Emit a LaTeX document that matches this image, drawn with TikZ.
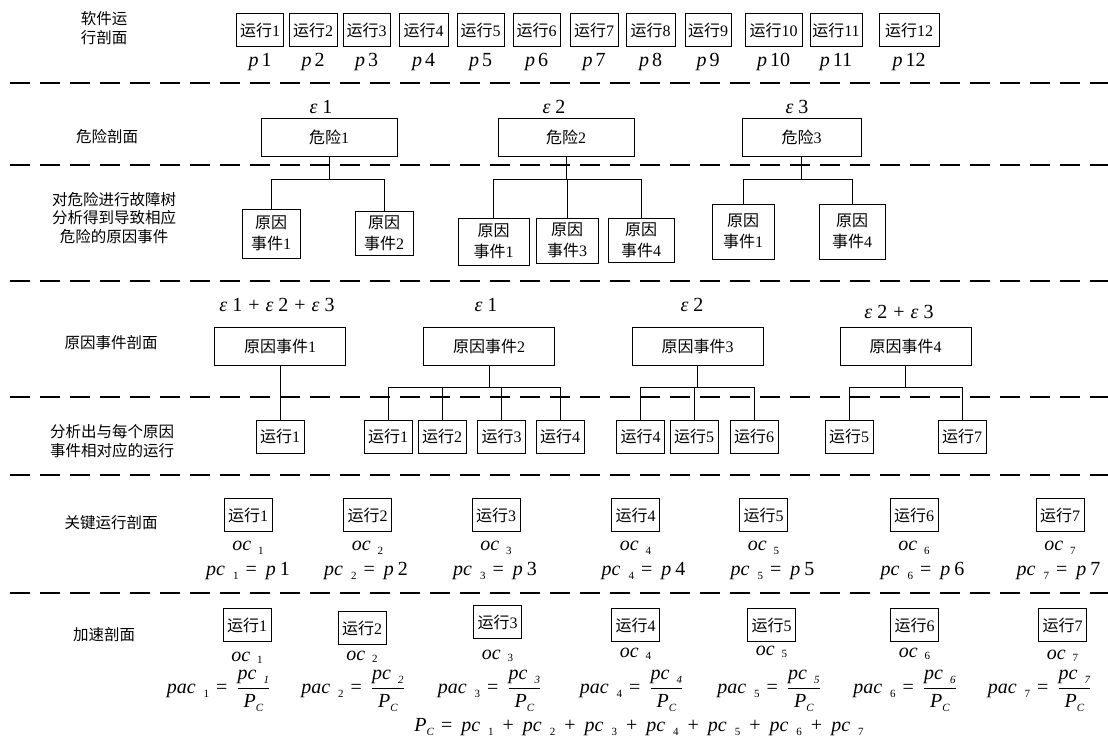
\documentclass[tikz,border=0pt]{standalone}
\usepackage{fontspec}
\usepackage{amsmath}
\setmainfont{Liberation Serif}
\newfontfamily\cjk{Noto Sans CJK SC}
\newcommand{\zh}[1]{{\cjk #1}}
\newcommand{\ivar}[1]{\textit{#1}}
\newcommand{\lowidx}[1]{{\fontsize{11}{11}\selectfont\raisebox{-4pt}{#1}}}
\newcommand{\eqs}{\hspace{7pt}=\hspace{9pt}}
\newcommand{\pls}{\hspace{9pt}+\hspace{9pt}}

\begin{document}
\begin{tikzpicture}[
    x=1pt, y=-1pt,
    every node/.style={font=\fontsize{16}{19}\selectfont},
    runbox/.style={draw, line width=1pt, minimum width=48pt,
        minimum height=33pt, inner sep=1pt},
    hazbox/.style={draw, line width=1pt, minimum height=38pt},
    causebox/.style={draw, line width=1pt, align=center, inner sep=2pt,
        font=\fontsize{16}{21}\selectfont},
    evbox/.style={draw, line width=1pt, minimum width=131pt,
        minimum height=38pt},
    stage/.style={align=center, font=\cjk\fontsize{15.5}{18.5}\selectfont},
    mathlbl/.style={font=\fontsize{20}{22}\selectfont, inner sep=0pt},
    wire/.style={line width=1pt},
    sep/.style={line width=2.5pt, dash pattern=on 20pt off 10pt}
]

    \useasboundingbox (0,0) rectangle (1108,752);

    % separators
    \foreach \y in {83,165,281,397,475,593}{
        \draw[sep] (10,\y) -- (1108,\y);
    }

    % stage names
    \node[stage] (stg1) at (104,28) {软件运\\行剖面};
    \node[stage] (stg2) at (107,137) {危险剖面};
    \node[stage] (stg3) at (114,218) {对危险进行故障树\\分析得到导致相应\\危险的原因事件};
    \node[stage] (stg4) at (111,343) {原因事件剖面};
    \node[stage] (stg5) at (112,441) {分析出与每个原因\\事件相对应的运行};
    \node[stage] (stg6) at (111,523) {关键运行剖面};
    \node[stage] (stg7) at (104,635) {加速剖面};

    % software run profile
    \foreach \i/\cx/\w in {1/260/47, 2/313/48, 3/366.5/47, 4/423.5/49,
        5/480.5/47, 6/536.5/47, 7/594/48, 8/650.5/49, 9/708/46,
        10/773.5/57, 11/836/52, 12/909/60}{
        \node[runbox, minimum width=\w pt] (run\i) at (\cx,30.5) {\zh{运行}\i};
        \node[mathlbl] (p\i) at (\cx,62) {\ivar{p}\hspace{3pt}\i};
    }

    % hazard profile
    \node[hazbox, minimum width=136pt] (haz1) at (329,137) {\zh{危险}1};
    \node[hazbox, minimum width=136pt] (haz2) at (566,137) {\zh{危险}2};
    \node[hazbox, minimum width=119pt] (haz3) at (801.5,137) {\zh{危险}3};
    \node[mathlbl] (eps1) at (321,107) {\ivar{ε}\hspace{5pt}1};
    \node[mathlbl] (eps2) at (554,107) {\ivar{ε}\hspace{5pt}2};
    \node[mathlbl] (eps3) at (797,107) {\ivar{ε}\hspace{5pt}3};

    % fault tree causes
    \node[causebox, minimum width=58pt, minimum height=49pt] (h1c1) at (271,233.5) {\zh{原因}\\\zh{事件}1};
    \node[causebox, minimum width=58pt, minimum height=44pt] (h1c2) at (384,233) {\zh{原因}\\\zh{事件}2};
    \node[causebox, minimum width=71pt, minimum height=47pt] (h2c1) at (493.5,241.5) {\zh{原因}\\\zh{事件}1};
    \node[causebox, minimum width=62pt, minimum height=45pt] (h2c3) at (567,240.5) {\zh{原因}\\\zh{事件}3};
    \node[causebox, minimum width=66pt, minimum height=44pt] (h2c4) at (641,240) {\zh{原因}\\\zh{事件}4};
    \node[causebox, minimum width=62pt, minimum height=55pt] (h3c1) at (743,231.5) {\zh{原因}\\\zh{事件}1};
    \node[causebox, minimum width=66pt, minimum height=55pt] (h3c4) at (852,231.5) {\zh{原因}\\\zh{事件}4};

    \foreach \c in {h1c1,h1c2}{
        \draw[wire] (haz1.south) -- ++(0,23) -| (\c.north);
    }
    \foreach \c in {h2c1,h2c3,h2c4}{
        \draw[wire] (haz2.south) -- ++(0,23) -| (\c.north);
    }
    \foreach \c in {h3c1,h3c4}{
        \draw[wire] (haz3.south) -- ++(0,23) -| (\c.north);
    }

    % cause event profile
    \node[evbox] (ev1) at (280,346) {\zh{原因事件}1};
    \node[evbox] (ev2) at (489,346) {\zh{原因事件}2};
    \node[evbox] (ev3) at (697.5,346) {\zh{原因事件}3};
    \node[evbox] (ev4) at (905.5,346) {\zh{原因事件}4};
    \node[mathlbl] (sum1) at (277,305) {\ivar{ε}\hspace{5pt}1\hspace{6pt}+\hspace{6pt}\ivar{ε}\hspace{5pt}2\hspace{6pt}+\hspace{6pt}\ivar{ε}\hspace{5pt}3};
    \node[mathlbl] (sum2) at (486,305) {\ivar{ε}\hspace{5pt}1};
    \node[mathlbl] (sum3) at (692,305) {\ivar{ε}\hspace{5pt}2};
    \node[mathlbl] (sum4) at (899,312) {\ivar{ε}\hspace{5pt}2\hspace{6pt}+\hspace{6pt}\ivar{ε}\hspace{5pt}3};

    % runs of each cause event
    \node[runbox] (k11) at (280,436.5) {\zh{运行}1};
    \node[runbox] (k21) at (388,436.5) {\zh{运行}1};
    \node[runbox] (k22) at (442,436.5) {\zh{运行}2};
    \node[runbox] (k23) at (501.5,436.5) {\zh{运行}3};
    \node[runbox] (k24) at (560,436.5) {\zh{运行}4};
    \node[runbox] (k31) at (640.5,436.5) {\zh{运行}4};
    \node[runbox] (k32) at (694,436.5) {\zh{运行}5};
    \node[runbox] (k33) at (754,436.5) {\zh{运行}6};
    \node[runbox] (k41) at (849,436.5) {\zh{运行}5};
    \node[runbox] (k42) at (962,436.5) {\zh{运行}7};

    \draw[wire] (ev1.south) -- (k11.north);
    \foreach \c in {k21,k22,k23,k24}{
        \draw[wire] (ev2.south) -- ++(0,22) -| (\c.north);
    }
    \foreach \c in {k31,k32,k33}{
        \draw[wire] (ev3.south) -- ++(0,22) -| (\c.north);
    }
    \foreach \c in {k41,k42}{
        \draw[wire] (ev4.south) -- ++(0,22) -| (\c.north);
    }

    % key run profile
    \foreach \i/\cx/\px in {1/248/248, 2/367.5/366, 3/496/495, 4/635.5/643.5,
        5/763.5/772.5, 6/914/922.5, 7/1060/1058.5}{
        \node[runbox] (key\i) at (\cx,515) {\zh{运行}\i};
        \node[mathlbl] (oc\i) at (\cx,548) {\ivar{oc}\hspace{7pt}\lowidx{\i}};
        \node[mathlbl] (pc\i) at (\px,571) {\ivar{pc}\hspace{8pt}\lowidx{\i}\eqs\ivar{p}\hspace{4pt}\i};
    }

    % acceleration profile
    \foreach \i/\cx/\by/\oy/\fx in {1/247/625/658/218.5, 2/362/628/657/353,
        3/497.5/622/656/489.5, 4/635.5/625/654/631.5, 5/771.5/625/652/769,
        6/914.5/625/654/905, 7/1062.5/625/656/1039.5}{
        \node[runbox] (acc\i) at (\cx,\by) {\zh{运行}\i};
        \node[mathlbl] (aoc\i) at (\cx,\oy) {\ivar{oc}\hspace{7pt}{\fontsize{11}{11}\selectfont\raisebox{-2.5pt}{\i}}};
        \node[mathlbl] (pac\i) at (\fx,691)
            {\ivar{pac}\hspace{8pt}\lowidx{\i}\eqs$\dfrac{\text{\itshape pc\hspace{7pt}\lowidx{\i}}}{\text{\itshape P\lowidx{C}}}$};
    }
    \node[mathlbl] (total) at (639,727)
        {\ivar{P}\lowidx{\ivar{C}}\eqs\ivar{pc}\hspace{8pt}\lowidx{1}\pls\ivar{pc}\hspace{8pt}\lowidx{2}\pls\ivar{pc}\hspace{8pt}\lowidx{3}\pls\ivar{pc}\hspace{8pt}\lowidx{4}\pls\ivar{pc}\hspace{8pt}\lowidx{5}\pls\ivar{pc}\hspace{8pt}\lowidx{6}\pls\ivar{pc}\hspace{8pt}\lowidx{7}};

\end{tikzpicture}
\end{document}
